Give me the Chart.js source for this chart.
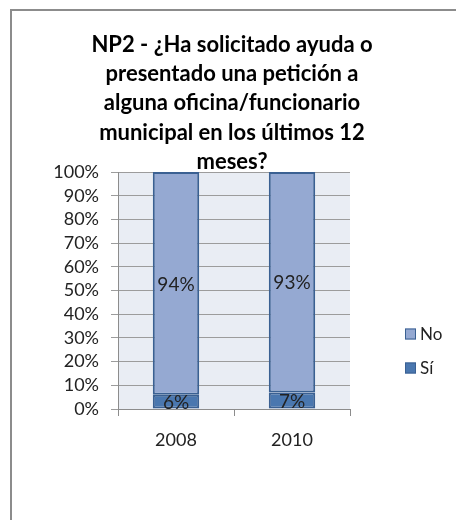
<!DOCTYPE html>
<html>
<head>
<meta charset="utf-8">
<script src="https://cdn.jsdelivr.net/npm/chart.js@4/dist/chart.umd.min.js"></script>
<style>
  html, body { margin: 0; padding: 0; background: #fff; }
  #wrap { width: 456px; height: 520px; }
</style>
</head>
<body>
<div id="wrap"><canvas id="myChart" width="456" height="520"></canvas></div>
<script>
// Data
const years = ['2008', '2010'];
const siValues = [6, 7];
const noValues = [94, 93];
const titleLines = [
  'NP2 - ¿Ha solicitado ayuda o',
  'presentado una petición a',
  'alguna oficina/funcionario',
  'municipal en los últimos 12',
  'meses?'
];

const FONT = 'Lato';

// frame, plot background and title
const backdropPlugin = {
  id: 'backdrop',
  beforeDraw(chart) {
    const ctx = chart.ctx;
    const a = chart.chartArea;
    ctx.save();
    ctx.fillStyle = '#fff';
    ctx.fillRect(0, 0, chart.width, chart.height);
    ctx.strokeStyle = '#8c8c8c';
    ctx.lineWidth = 2;
    ctx.strokeRect(11, 10, chart.width + 20, chart.height + 20);
    ctx.fillStyle = '#e9edf4';
    ctx.fillRect(a.left, a.top, a.right - a.left, a.bottom - a.top);
    ctx.restore();
  },
  afterDraw(chart) {
    const ctx = chart.ctx;
    ctx.save();
    ctx.fillStyle = '#000';
    ctx.font = 'bold 22px ' + FONT;
    ctx.textAlign = 'center';
    ctx.textBaseline = 'middle';
    titleLines.forEach((t, i) => ctx.fillText(t, 232, 45 + i * 29.2));

    // legend (reverse order like the original)
    ctx.font = '17px ' + FONT;
    ctx.textAlign = 'left';
    const ds = chart.data.datasets.slice().reverse();
    ds.forEach((d, i) => {
      const cy = 334 + i * 34;
      ctx.fillStyle = d.backgroundColor;
      ctx.fillRect(405, cy - 5.5, 11, 11);
      ctx.strokeStyle = d.borderColor;
      ctx.lineWidth = 1;
      ctx.strokeRect(405.5, cy - 5, 10, 10);
      ctx.fillStyle = '#222';
      ctx.fillText(d.label, 420, cy + 1);
    });
    ctx.restore();
  }
};

// value labels in the middle of each segment
const valueLabels = {
  id: 'valueLabels',
  afterDatasetsDraw(chart) {
    const ctx = chart.ctx;
    ctx.save();
    ctx.font = '19px ' + FONT;
    ctx.fillStyle = '#222';
    ctx.textAlign = 'center';
    ctx.textBaseline = 'middle';
    chart.data.datasets.forEach((d, i) => {
      chart.getDatasetMeta(i).data.forEach((bar, j) => {
        const p = bar.getProps(['x', 'y', 'base'], true);
        ctx.fillText(d.data[j] + '%', p.x, (p.y + p.base) / 2 + 1);
      });
    });
    ctx.restore();
  }
};

const ctx = document.getElementById('myChart').getContext('2d');
new Chart(ctx, {
  type: 'bar',
  data: {
    labels: years,
    datasets: [
      {
        label: 'Sí',
        data: siValues,
        backgroundColor: '#4a77af',
        borderColor: '#3a6092',
        borderWidth: 2,
        borderSkipped: false,
        barPercentage: 0.4,
        categoryPercentage: 1.0
      },
      {
        label: 'No',
        data: noValues,
        backgroundColor: '#95a9d2',
        borderColor: '#3a6092',
        borderWidth: 2,
        borderSkipped: false,
        barPercentage: 0.4,
        categoryPercentage: 1.0
      }
    ]
  },
  options: {
    responsive: false,
    animation: false,
    layout: { padding: { left: 12, top: 172, right: 106, bottom: 71 } },
    plugins: {
      legend: { display: false },
      tooltip: { enabled: false }
    },
    scales: {
      x: {
        stacked: true,
        afterFit: s => { s.height = 40; },
        grid: { drawOnChartArea: false, drawTicks: true, tickLength: 7, color: '#8c8c8c', offset: true },
        border: { color: '#8c8c8c' },
        ticks: { color: '#222', font: { family: FONT, size: 18 }, padding: 13 }
      },
      y: {
        stacked: true,
        min: 0,
        max: 100,
        afterFit: s => { s.width = 106; },
        grid: { color: '#9c9c9c', tickLength: 7 },
        border: { color: '#8c8c8c' },
        ticks: {
          stepSize: 10,
          autoSkip: false,
          color: '#222',
          padding: 12,
          font: { family: FONT, size: 18, lineHeight: 1 },
          callback: v => v + '%'
        }
      }
    }
  },
  plugins: [backdropPlugin, valueLabels]
});
</script>
</body>
</html>
